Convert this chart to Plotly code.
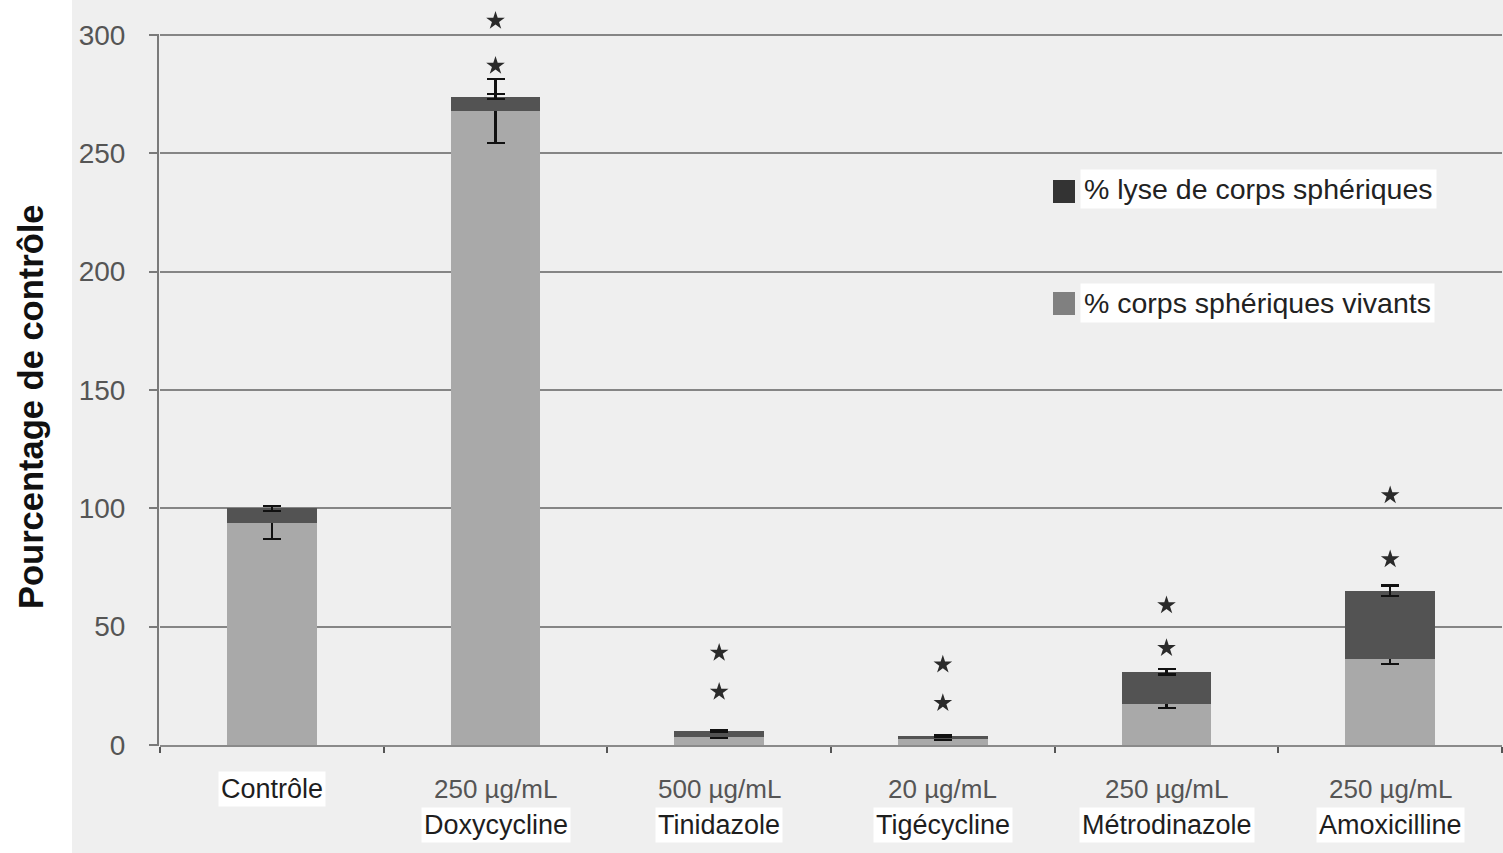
import plotly.graph_objects as go

# Treatments (dose line, drug name)
doses = ["", "250 µg/mL", "500 µg/mL", "20 µg/mL", "250 µg/mL", "250 µg/mL"]
drugs = ["Contrôle", "Doxycycline", "Tinidazole", "Tigécycline", "Métrodinazole", "Amoxicilline"]
categories = ["Contrôle", "Doxycycline", "Tinidazole", "Tigécycline", "Métrodinazole", "Amoxicilline"]

# Percentage of control
live_pct = [94, 268, 3.5, 2.5, 17.5, 36.5]
live_err = [7, 13.5, 0.6, 0.5, 1.8, 2.4]
lysis_pct = [6, 6, 2.5, 1.3, 13.5, 28.7]
lysis_err = [1, 1, 0.5, 0.4, 1.2, 2.2]

# Significance stars (two per treated group)
star_upper = [None, 306, 39, 34, 59, 105.5]
star_lower = [None, 287, 22.5, 17.7, 41, 78.5]

y_ticks = [0, 50, 100, 150, 200, 250, 300]

W, H = 1503, 853
L, R, T, B = 160, 1, 3, 108
PW, PH = W - L - R, H - T - B


def px(x):
    return (x - L) / PW


def py(y):
    return (H - B - y) / PH


LIVE_COLOR = "#a9a9a9"
LYSIS_COLOR = "#535353"

fig = go.Figure()

fig.add_trace(go.Bar(
    x=categories, y=live_pct, name="% corps sphériques vivants",
    marker=dict(color=LIVE_COLOR, line=dict(width=0)),
    width=0.4,
    error_y=dict(type="data", array=live_err, color="#111111", thickness=2.2, width=9),
    showlegend=False,
))
fig.add_trace(go.Bar(
    x=categories, y=lysis_pct, name="% lyse de corps sphériques",
    marker=dict(color=LYSIS_COLOR, line=dict(width=0)),
    width=0.4,
    error_y=dict(type="data", array=lysis_err, color="#111111", thickness=2.2, width=9),
    showlegend=False,
))

for stars in (star_upper, star_lower):
    fig.add_trace(go.Scatter(
        x=categories, y=stars, mode="markers",
        marker=dict(symbol="star", size=14, color="#2a2a2a"),
        showlegend=False, hoverinfo="skip",
    ))

shapes = [
    # grey panel behind the whole chart
    dict(type="rect", xref="paper", yref="paper", layer="below",
         x0=px(72), x1=px(W + 5), y0=py(H + 5), y1=py(-5),
         fillcolor="#efefef", line=dict(width=0)),
    # vertical axis line from 0 to 300
    dict(type="line", xref="paper", yref="y", layer="above",
         x0=px(158), x1=px(158), y0=0, y1=300,
         line=dict(color="#7a7a7a", width=2)),
    # legend swatches
    dict(type="rect", xref="paper", yref="paper",
         x0=px(1053), x1=px(1075), y0=py(203), y1=py(180),
         fillcolor="#333333", line=dict(width=0)),
    dict(type="rect", xref="paper", yref="paper",
         x0=px(1053), x1=px(1075), y0=py(315), y1=py(292),
         fillcolor="#808080", line=dict(width=0)),
]

FONT = "Liberation Sans, Arial, sans-serif"
annotations = [
    dict(text="% lyse de corps sphériques", xref="paper", yref="paper",
         x=px(1080), y=py(189), xanchor="left", yanchor="middle",
         showarrow=False, bgcolor="white", borderpad=3,
         font=dict(family=FONT, size=28.5, color="#222222")),
    dict(text="% corps sphériques vivants", xref="paper", yref="paper",
         x=px(1080), y=py(303), xanchor="left", yanchor="middle",
         showarrow=False, bgcolor="white", borderpad=3,
         font=dict(family=FONT, size=28.5, color="#222222")),
    dict(text="<b>Pourcentage de contrôle</b>", xref="paper", yref="paper",
         x=px(31), y=py(407), xanchor="center", yanchor="middle",
         textangle=-90, showarrow=False,
         font=dict(family=FONT, size=34.5, color="#111111")),
]

for cat, dose, drug in zip(categories, doses, drugs):
    if dose:
        annotations.append(dict(
            text=dose, x=cat, xref="x", yref="paper", y=py(789),
            xanchor="center", yanchor="middle", showarrow=False,
            font=dict(family=FONT, size=26, color="#555555")))
        annotations.append(dict(
            text=drug, x=cat, xref="x", yref="paper", y=py(825),
            xanchor="center", yanchor="middle", showarrow=False,
            bgcolor="white", borderpad=2,
            font=dict(family=FONT, size=27, color="#1e1e1e")))
    else:
        annotations.append(dict(
            text=drug, x=cat, xref="x", yref="paper", y=py(789),
            xanchor="center", yanchor="middle", showarrow=False,
            bgcolor="white", borderpad=2,
            font=dict(family=FONT, size=27, color="#1e1e1e")))

fig.update_layout(
    width=W, height=H,
    margin=dict(l=L, r=R, t=T, b=B, pad=0),
    paper_bgcolor="white",
    plot_bgcolor="rgba(0,0,0,0)",
    barmode="stack",
    shapes=shapes,
    annotations=annotations,
    font=dict(family=FONT),
)

fig.update_xaxes(
    type="category", categoryorder="array", categoryarray=categories,
    range=[-0.5, 5.5],
    showticklabels=False, showgrid=False,
    showline=True, linecolor="#8a8a8a", linewidth=2,
    ticks="outside", tickson="boundaries", ticklen=6, tickcolor="#555555", tickwidth=2,
)

fig.update_yaxes(
    range=[0, (H - B - T) / ((H - B - 35) / 300)],
    tickvals=y_ticks, ticktext=[str(v) for v in y_ticks],
    showgrid=True, gridcolor="#858585", gridwidth=2,
    showline=False, zeroline=False,
    ticks="outside", ticklen=10, tickcolor="#7a7a7a", tickwidth=2,
    ticklabelstandoff=18,
    tickfont=dict(family=FONT, size=28, color="#555555"),
)

fig.write_html("out.html")
